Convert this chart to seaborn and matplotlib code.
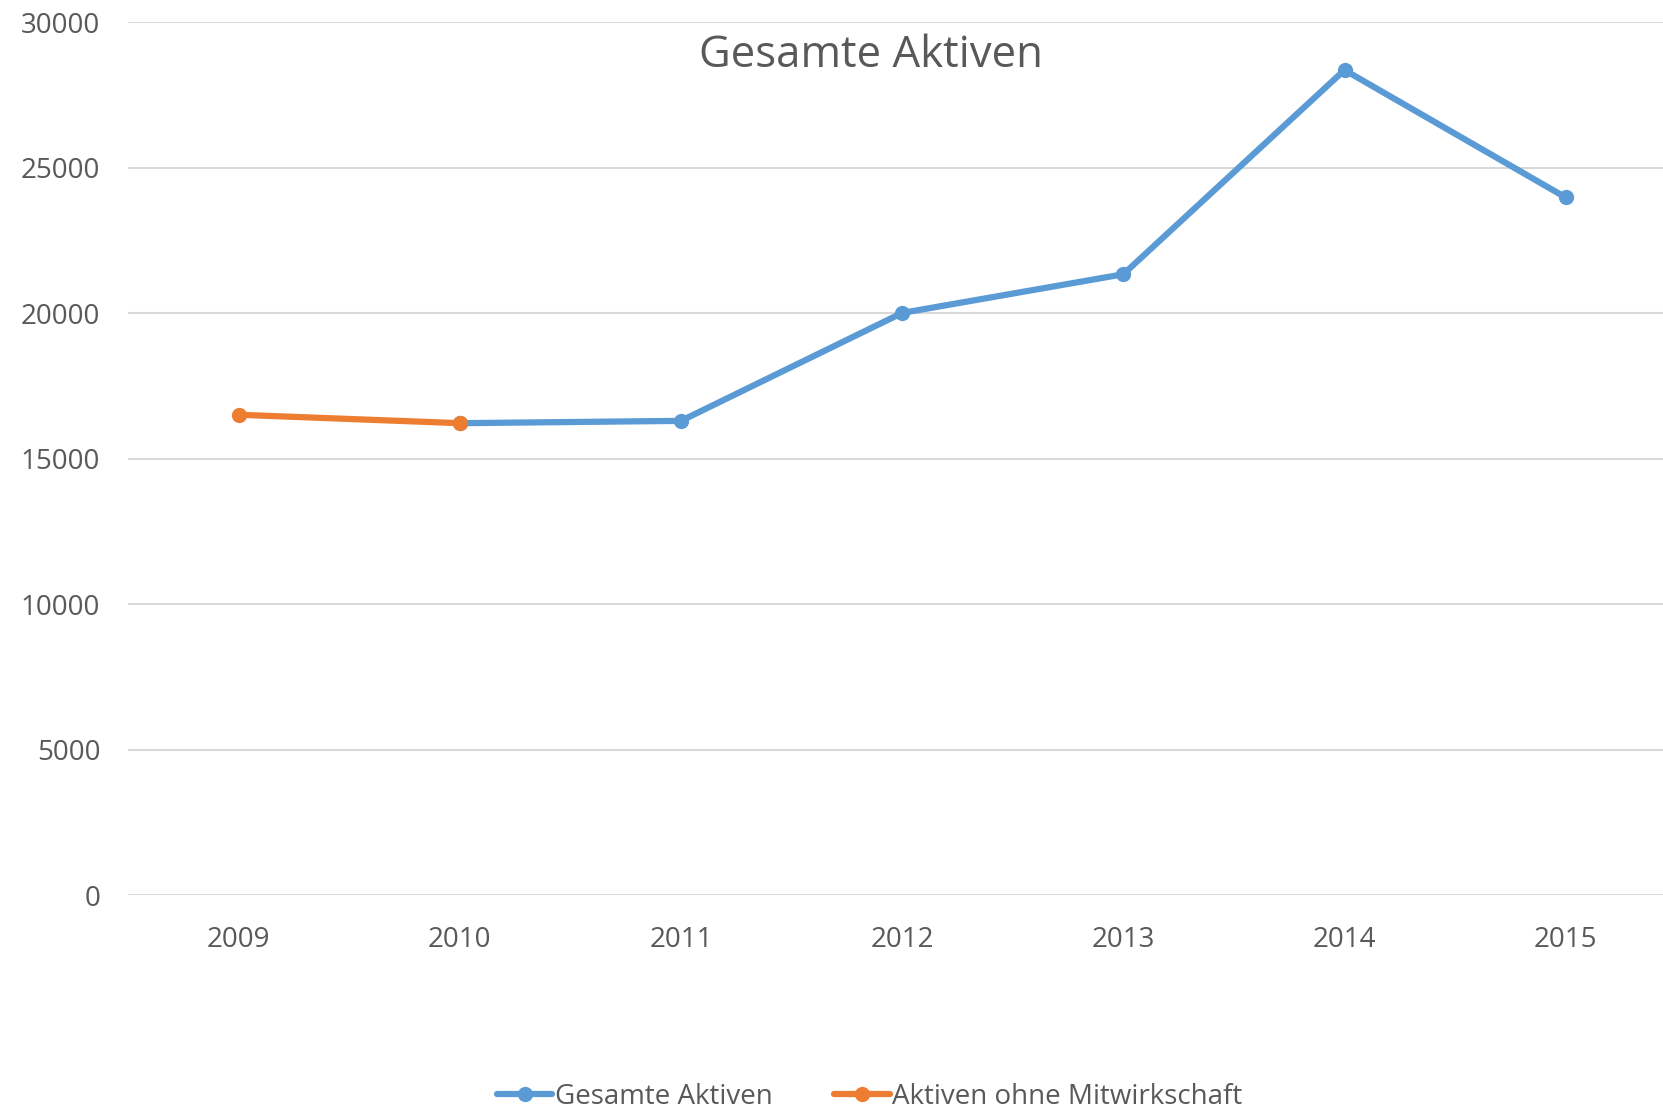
import matplotlib
matplotlib.use("Agg")
import matplotlib.pyplot as plt
import seaborn as sns
import pandas as pd

# data
years = ["2009", "2010", "2011", "2012", "2013", "2014", "2015"]
gesamte_years = ["2010", "2011", "2012", "2013", "2014", "2015"]
gesamte_values = [16220, 16300, 20010, 21340, 28360, 23980]
ohne_years = ["2009", "2010"]
ohne_values = [16510, 16220]

BLUE = "#5b9bd5"
ORANGE = "#ed7d31"
GREY = "#595959"

sns.set_style("white")
plt.rcParams["font.family"] = ["Open Sans", "DejaVu Sans"]

df = pd.concat([
    pd.DataFrame({"Jahr": gesamte_years, "Wert": gesamte_values, "Serie": "Gesamte Aktiven"}),
    pd.DataFrame({"Jahr": ohne_years, "Wert": ohne_values, "Serie": "Aktiven ohne Mitwirkschaft"}),
])
df["x"] = df["Jahr"].map({y: i for i, y in enumerate(years)})

fig = plt.figure(figsize=(16.63, 11.16), dpi=100)
ax = fig.add_axes([0.077, 0.198, 0.923, 0.782])

sns.lineplot(data=df, x="x", y="Wert", hue="Serie",
             palette={"Gesamte Aktiven": BLUE, "Aktiven ohne Mitwirkschaft": ORANGE},
             marker="o", markersize=11, markeredgewidth=0, linewidth=4.5,
             ax=ax, legend=False)

ax.set_xlim(-0.5, 6.44)
ax.set_ylim(0, 30000)
ax.set_yticks(range(0, 30001, 5000))
ax.set_xticks(range(len(years)))
ax.set_xticklabels(years)
ax.yaxis.grid(True, color="#d9d9d9", linewidth=1.5)
ax.set_axisbelow(True)
for s in ax.spines.values():
    s.set_visible(False)
ax.tick_params(axis="both", length=0, labelsize=20, colors=GREY)
ax.tick_params(axis="y", pad=20)
ax.tick_params(axis="x", pad=22)
ax.set_xlabel("")
ax.set_ylabel("")

fig.text(0.524, 0.950, "Gesamte Aktiven", ha="center", va="center", fontsize=31.5, color=GREY)

handles = [
    plt.Line2D([], [], color=BLUE, lw=4.5, marker="o", markersize=11, markeredgewidth=0),
    plt.Line2D([], [], color=ORANGE, lw=4.5, marker="o", markersize=11, markeredgewidth=0),
]
fig.legend(handles, ["Gesamte Aktiven", "Aktiven ohne Mitwirkschaft"],
           loc="center", bbox_to_anchor=(0.523, 0.017), ncol=2, frameon=False,
           fontsize=20, labelcolor=GREY, handlelength=2.0, handletextpad=0.1,
           columnspacing=2.2)

fig.savefig("out.png", dpi=100)
